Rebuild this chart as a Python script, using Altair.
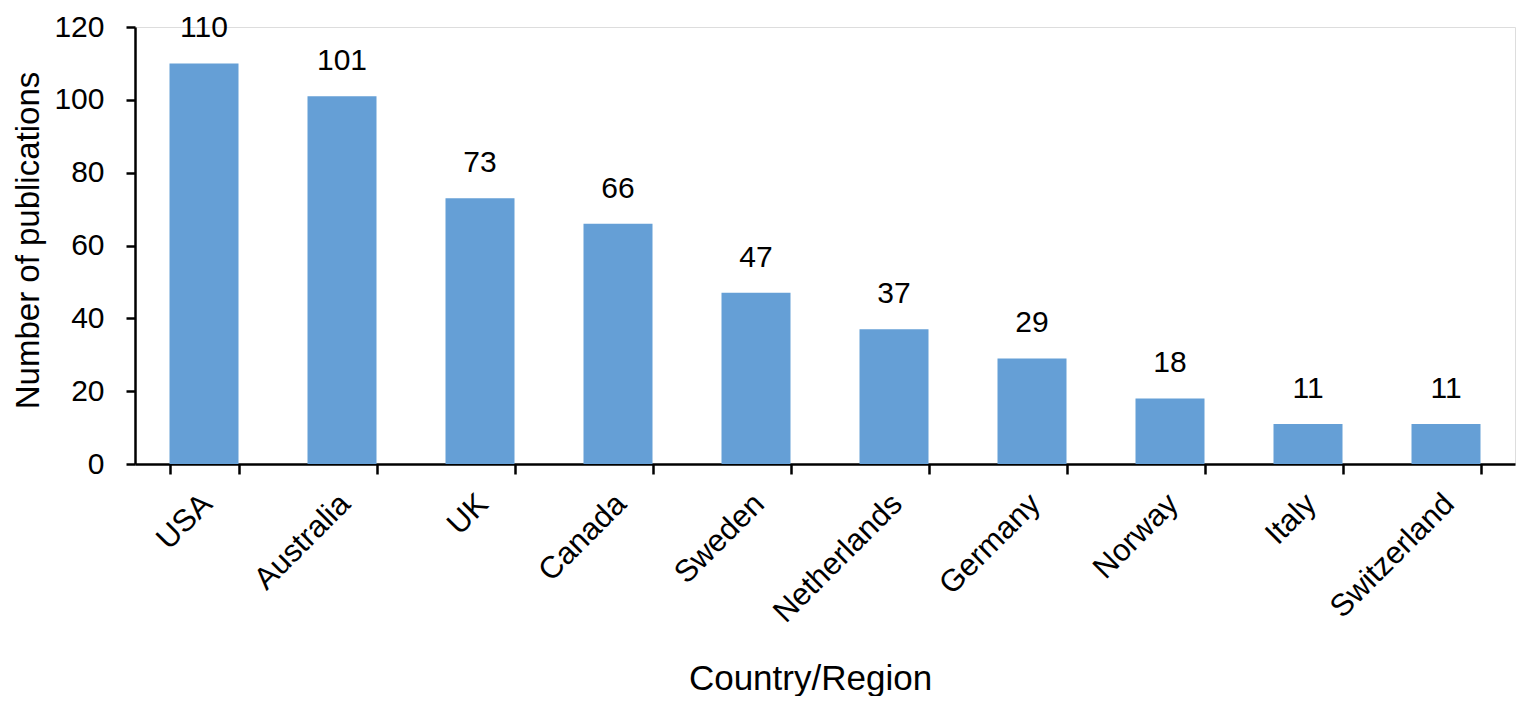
import altair as alt
import pandas as pd

countries = ["USA", "Australia", "UK", "Canada", "Sweden", "Netherlands",
             "Germany", "Norway", "Italy", "Switzerland"]
publications = [110, 101, 73, 66, 47, 37, 29, 18, 11, 11]
y_ticks = [0, 20, 40, 60, 80, 100, 120]

df = pd.DataFrame({"country": countries, "n": publications})

FONT = "Liberation Sans"
BAR = "#659fd6"

x_enc = alt.X(
    "country:N",
    sort=countries,
    scale=alt.Scale(paddingInner=0.5, paddingOuter=0.25),
    axis=alt.Axis(
        title="Country/Region",
        labelAngle=-45,
        labelAlign="right",
        labelBaseline="middle",
        labelFont=FONT,
        labelFontSize=31,
        labelColor="black",
        labelPadding=25,
        labelOffset=3,
        tickBand="extent",
        tickSize=10,
        tickWidth=2.5,
        tickColor="black",
        domainColor="black",
        domainWidth=2.5,
        titleFont=FONT,
        titleFontSize=35,
        titleFontWeight="normal",
        titleColor="black",
        titleX=675,
        titleY=225,
        titleAlign="center",
        titleBaseline="alphabetic",
    ),
)

y_enc = alt.Y(
    "n:Q",
    scale=alt.Scale(domain=[0, 120], nice=False),
    axis=alt.Axis(
        title="Number of publications",
        values=y_ticks,
        grid=False,
        labelFont=FONT,
        labelFontSize=30,
        labelColor="black",
        labelPadding=22,
        tickSize=9,
        tickWidth=2.5,
        tickColor="black",
        domainColor="black",
        domainWidth=2.5,
        titleFont=FONT,
        titleFontSize=33,
        titleFontWeight="normal",
        titleColor="black",
        titleX=-97,
        titleY=213,
        titleAlign="center",
        titleBaseline="alphabetic",
    ),
)

bars = alt.Chart(df).mark_bar(color=BAR).encode(x=x_enc, y=y_enc)

labels = alt.Chart(df).mark_text(
    font=FONT, fontSize=30, color="black", baseline="alphabetic", dy=-26
).encode(
    x=alt.X("country:N", sort=countries),
    y=alt.Y("n:Q"),
    text=alt.Text("n:Q"),
)

chart = (
    alt.layer(bars, labels)
    .properties(
        width=1380,
        height=437,
        padding={"left": 127, "top": 19, "right": 2, "bottom": 232},
        autosize=alt.AutoSizeParams(type="none"),
    )
    .configure_view(stroke=None)
    .configure(background="white")
)

chart.save("out.html", embed_options={"renderer": "svg", "actions": False})
